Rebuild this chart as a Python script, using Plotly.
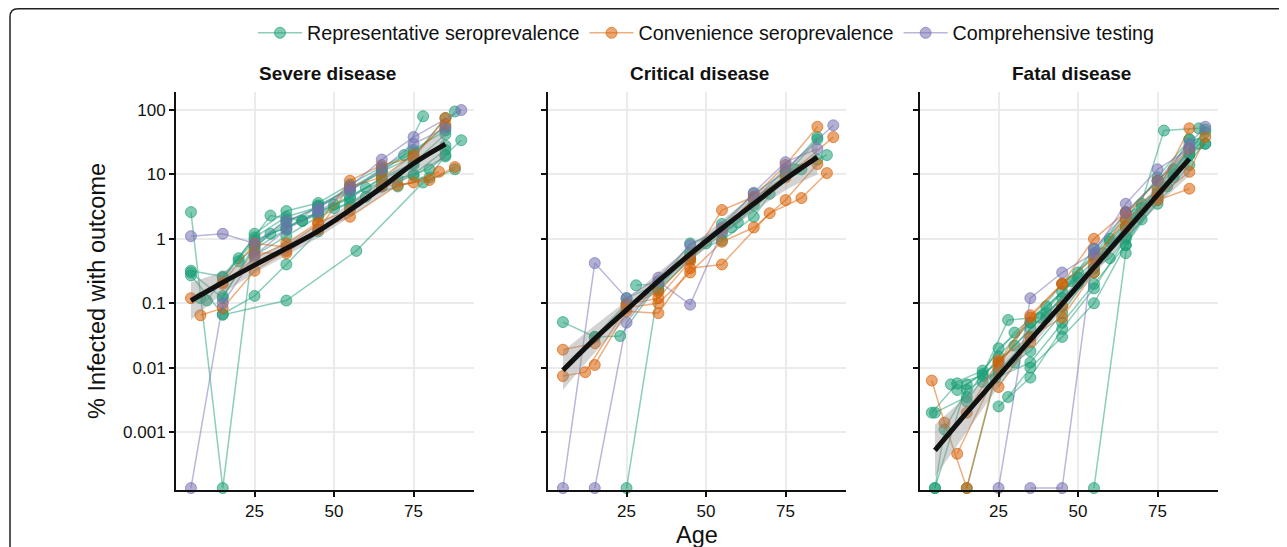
import plotly.graph_objects as go

W, H = 1287, 547          # browser window
OFF = 8                   # page body margin
FW, FH = W - OFF, H - OFF  # figure size that fits in the window
FONT = "Liberation Sans, Arial, sans-serif"
FLOOR = 10 ** -3.87  # zero values are drawn on the bottom edge

GREEN = "27,158,119"
ORANGE = "217,95,2"
PURPLE = "117,112,179"

# ---------------- Severe disease ----------------
SEV_REP_AGES = [
    [5, 15, 25, 35, 45, 55, 65, 75, 85],
    [5, 15, 25, 35, 45, 55, 65, 75, 85],
    [5, 15, 25, 35, 45, 55, 65, 75, 85],
    [10, 20, 30, 40, 50, 60, 70, 80, 90],
    [15, 35, 57, 78, 88],
    [8, 15, 25, 35, 45, 55, 65, 75, 85],
    [25, 35, 45, 55, 65, 72, 78],
    [5, 15, 25, 35, 45, 55, 65, 75, 85],
    [15, 25, 35, 45, 55, 65, 75, 85, 88],
    [25, 35, 45, 55, 65, 75, 85],
    [20, 30, 40, 50, 60, 70, 80, 85],
]
SEV_REP_VALS = [
    [2.6, 0, 1.2, 2.7, 3.6, 7.0, 13, 24, 48],
    [0.32, 0.26, 1.05, 2.2, 3.1, 5.6, 11, 19, 75],
    [0.27, 0.068, 0.13, 0.4, 1.3, 3.1, 6.5, 9.5, 19],
    [0.11, 0.5, 2.3, 1.9, 3.4, 6.2, 8.5, 12, 34],
    [0.066, 0.11, 0.65, 7.5, 12],
    [0.12, 0.25, 0.95, 1.5, 2.6, 4.2, 9, 15, 42],
    [0.75, 1.8, 3.2, 6.0, 11, 20, 80],
    [0.3, 0.12, 0.8, 2.0, 2.4, 4.5, 8.5, 14, 28],
    [0.13, 0.7, 1.4, 3.3, 6.0, 12, 22, 55, 95],
    [0.55, 1.1, 2.2, 3.6, 7.5, 10, 24],
    [0.45, 1.2, 1.9, 3.0, 4.5, 6.5, 9.0, 20],
]
SEV_CONV_AGES = [
    [5, 15, 25, 35, 45, 55, 65, 75, 85],
    [8, 15, 25, 35, 45, 55, 70, 80, 88],
    [15, 25, 35, 45, 55, 65, 75, 83],
    [25, 35, 45, 55, 65, 75, 85],
]
SEV_CONV_VALS = [
    [0.12, 0.21, 0.85, 0.75, 1.7, 8.0, 14, 18, 75],
    [0.065, 0.084, 0.32, 0.65, 1.4, 2.2, 6.8, 8.2, 13],
    [0.2, 0.5, 0.85, 1.8, 2.8, 6.5, 7.5, 11],
    [0.6, 0.6, 1.4, 6.5, 9, 20, 60],
]
SEV_COMP_AGES = [
    [5, 15, 25, 35, 45, 55, 65, 75, 90],
    [5, 15, 25, 35, 45, 55, 65, 75, 85],
]
SEV_COMP_VALS = [
    [1.1, 1.2, 0.85, 1.9, 3.0, 6.5, 17, 38, 100],
    [0, 0.1, 0.55, 1.4, 2.6, 5.5, 12, 30, 52],
]

# ---------------- Critical disease ----------------
CRI_REP_AGES = [
    [5, 15, 23, 35, 45, 55, 65, 75, 85],
    [25, 35, 45, 55, 65, 75, 85],
    [28, 35, 45, 58, 65, 78, 88],
    [15, 25, 35, 45, 55, 65, 75, 85],
    [25, 35, 45, 50, 60, 70, 80],
]
CRI_REP_VALS = [
    [0.051, 0.030, 0.031, 0.2, 0.55, 1.7, 5.0, 11, 38],
    [0, 0.17, 0.6, 0.95, 2.2, 10.5, 17],
    [0.19, 0.2, 0.85, 1.5, 3.3, 12, 20],
    [0.03, 0.1, 0.16, 0.48, 1.2, 4.2, 9.5, 35],
    [0.12, 0.2, 0.5, 0.85, 1.8, 5.0, 12],
]
CRI_CONV_AGES = [
    [5, 15, 25, 35, 45, 55, 65, 75, 85],
    [5, 12, 25, 35, 45, 55, 65, 75, 85],
    [15, 25, 35, 45, 55, 70, 80, 88],
    [25, 35, 45, 55, 65, 75, 90],
]
CRI_CONV_VALS = [
    [0.019, 0.024, 0.095, 0.12, 0.45, 2.8, 4.5, 14, 55],
    [0.0074, 0.0085, 0.085, 0.1, 0.3, 0.9, 1.5, 4.0, 14.5],
    [0.011, 0.075, 0.07, 0.35, 0.4, 2.5, 4.3, 10.5],
    [0.09, 0.15, 0.5, 1.4, 4.3, 9, 38],
]
CRI_COMP_AGES = [
    [5, 15, 25, 35, 45, 55, 65, 75, 85],
    [15, 25, 35, 45, 55, 65, 75, 90],
]
CRI_COMP_VALS = [
    [0, 0.42, 0.12, 0.25, 0.8, 1.5, 5.2, 15.5, 25],
    [0, 0.05, 0.22, 0.095, 1.3, 4.0, 12, 58],
]

# ---------------- Fatal disease ----------------
FAT_REP_AGES = [
    [5, 15, 25, 35, 45, 55, 65, 75, 85],
    [4, 12, 20, 30, 40, 50, 60, 70, 80, 90],
    [5, 8, 15, 25, 35, 45, 55, 65, 75, 85],
    [15, 24, 35, 45, 55, 65, 75, 85],
    [55, 65, 77, 88],
    [12, 20, 28, 38, 48, 58, 68, 78, 88],
    [10, 20, 30, 40, 50, 60, 70, 80, 90],
    [25, 35, 45, 55, 65, 75, 85],
    [15, 25, 35, 45, 55, 65, 75, 85],
    [25, 35, 45, 55, 65, 75, 85, 90],
    [20, 30, 40, 50, 60, 70, 80, 90],
    [5, 15, 25, 35, 45, 55, 65, 75, 85],
    [28, 35, 45, 55, 65, 75, 85],
]
FAT_REP_VALS = [
    [0, 0.0055, 0.012, 0.04, 0.12, 0.35, 1.1, 4.5, 25],
    [0.002, 0.0057, 0.0075, 0.022, 0.07, 0.2, 0.9, 3.5, 9, 30],
    [0, 0.0011, 0.0045, 0.009, 0.03, 0.09, 0.3, 1.5, 6, 35],
    [0, 0.0069, 0.012, 0.05, 0.2, 0.8, 4.0, 20],
    [0, 0.6, 48, 52],
    [0.0045, 0.008, 0.055, 0.06, 0.22, 0.6, 2.4, 6.5, 30],
    [0.0055, 0.009, 0.035, 0.09, 0.25, 0.5, 2.0, 10, 50],
    [0.0025, 0.007, 0.04, 0.17, 1.0, 3.5, 14],
    [0.003, 0.015, 0.05, 0.2, 0.55, 2.6, 8, 22],
    [0.0085, 0.018, 0.07, 0.35, 1.6, 5, 20, 30],
    [0.006, 0.012, 0.06, 0.3, 1.0, 3.0, 12, 45],
    [0.002, 0.0035, 0.02, 0.05, 0.15, 0.7, 2.0, 9, 35],
    [0.0035, 0.01, 0.03, 0.1, 0.8, 5, 25],
]
FAT_CONV_AGES = [
    [4, 8, 15, 25, 35, 45, 55, 65, 75, 85],
    [12, 25, 35, 45, 55, 65, 75, 85, 90],
    [15, 25, 35, 45, 55, 65, 75, 85],
    [25, 35, 45, 55, 65, 75, 85],
]
FAT_CONV_VALS = [
    [0.0063, 0.0014, 0, 0.012, 0.065, 0.2, 1.0, 2.6, 5.5, 52],
    [0.00046, 0.01, 0.06, 0.2, 0.5, 2.0, 4.5, 11, 38],
    [0.002, 0.013, 0.03, 0.06, 0.3, 1.5, 4.0, 6],
    [0.005, 0.025, 0.09, 0.4, 2.5, 8, 25],
]
FAT_COMP_AGES = [
    [25, 35, 45, 55, 65, 75, 85],
    [35, 45, 55, 65, 75, 85, 90],
]
FAT_COMP_VALS = [
    [0, 0.12, 0.3, 0.6, 3.5, 12, 25],
    [0, 0, 0.7, 2.5, 8, 30, 55],
]

# ---------------- Meta-regression fits ----------------
AGE_FIT = [5, 15, 25, 35, 45, 55, 65, 75, 85]
SEV_FIT = [0.11, 0.21, 0.39, 0.71, 1.32, 2.8, 6.3, 14.8, 29.5]
SEV_LO = [0.055, 0.14, 0.29, 0.55, 1.05, 2.2, 4.7, 10, 17]
SEV_HI = [0.21, 0.31, 0.52, 0.9, 1.7, 3.6, 8.5, 22, 50]
CRI_FIT = [0.0091, 0.028, 0.079, 0.22, 0.58, 1.45, 3.5, 8.5, 18.6]
CRI_LO = [0.0045, 0.017, 0.057, 0.16, 0.45, 1.1, 2.6, 5.7, 10]
CRI_HI = [0.018, 0.045, 0.11, 0.3, 0.75, 1.95, 4.8, 12.5, 33]
FAT_FIT = [0.00052, 0.002, 0.0074, 0.027, 0.098, 0.36, 1.32, 4.8, 17.4]
FAT_LO = [0.0002, 0.001, 0.005, 0.02, 0.077, 0.28, 0.98, 3.3, 9.5]
FAT_HI = [0.0013, 0.0037, 0.011, 0.036, 0.125, 0.47, 1.8, 7.0, 32]

PANEL_TITLES = ["Severe disease", "Critical disease", "Fatal disease"]
GROUP_NAMES = ["Representative seroprevalence", "Convenience seroprevalence", "Comprehensive testing"]
Y_TICK_VALS = [100, 10, 1, 0.1, 0.01, 0.001]
Y_TICK_TEXT = ["100", "10", "1", "0.1", "0.01", "0.001"]
X_TICK_VALS = [25, 50, 75]


def px(x):
    return (x - OFF) / FW


def py(y):
    return 1 - (y - OFF) / FH


panels = [
    ([(SEV_REP_AGES, SEV_REP_VALS), (SEV_CONV_AGES, SEV_CONV_VALS), (SEV_COMP_AGES, SEV_COMP_VALS)],
     SEV_FIT, SEV_LO, SEV_HI),
    ([(CRI_REP_AGES, CRI_REP_VALS), (CRI_CONV_AGES, CRI_CONV_VALS), (CRI_COMP_AGES, CRI_COMP_VALS)],
     CRI_FIT, CRI_LO, CRI_HI),
    ([(FAT_REP_AGES, FAT_REP_VALS), (FAT_CONV_AGES, FAT_CONV_VALS), (FAT_COMP_AGES, FAT_COMP_VALS)],
     FAT_FIT, FAT_LO, FAT_HI),
]
colors = [GREEN, ORANGE, PURPLE]

fig = go.Figure()
legend_done = set()
for pi, (groups, fit, lo, hi) in enumerate(panels):
    xa = "x" if pi == 0 else f"x{pi+1}"
    ya = "y" if pi == 0 else f"y{pi+1}"
    for gi, (ages_list, vals_list) in enumerate(groups):
        c = colors[gi]
        for ages, vals in zip(ages_list, vals_list):
            yv = [v if v > 0 else FLOOR for v in vals]
            show = gi not in legend_done
            legend_done.add(gi)
            fig.add_trace(go.Scatter(
                x=ages, y=yv, xaxis=xa, yaxis=ya, mode="lines+markers",
                name=GROUP_NAMES[gi], legendgroup=GROUP_NAMES[gi], showlegend=show,
                legendrank=gi + 1,
                line=dict(color=f"rgba({c},0.5)", width=1.5),
                marker=dict(size=11, color=f"rgba({c},0.55)",
                            line=dict(color=f"rgba({c},0.65)", width=1)),
                cliponaxis=False, hoverinfo="skip",
            ))
    fig.add_trace(go.Scatter(x=AGE_FIT, y=hi, xaxis=xa, yaxis=ya, mode="lines",
                             line=dict(width=0, shape="spline"), showlegend=False, hoverinfo="skip"))
    fig.add_trace(go.Scatter(x=AGE_FIT, y=lo, xaxis=xa, yaxis=ya, mode="lines",
                             line=dict(width=0, shape="spline"), fill="tonexty",
                             fillcolor="rgba(140,140,140,0.38)", showlegend=False, hoverinfo="skip"))
    fig.add_trace(go.Scatter(x=AGE_FIT, y=fit, xaxis=xa, yaxis=ya, mode="lines",
                             line=dict(color="#111111", width=5, shape="spline"),
                             showlegend=False, hoverinfo="skip"))

x_starts = [176, 548, 920]
pw = 298
y_dom = [py(490), py(92)]
layout = dict(
    width=FW, height=FH, margin=dict(l=0, r=0, t=0, b=0),
    paper_bgcolor="white", plot_bgcolor="white",
    font=dict(family=FONT, size=17, color="#111111"),
    showlegend=True,
    legend=dict(orientation="h", x=px(706), xanchor="center", y=py(33), yanchor="middle",
                font=dict(size=19.7, family=FONT, color="#111111"), itemwidth=44,
                bgcolor="rgba(0,0,0,0)"),
)
annotations = []
for pi in range(3):
    xk = "xaxis" if pi == 0 else f"xaxis{pi+1}"
    yk = "yaxis" if pi == 0 else f"yaxis{pi+1}"
    ya = "y" if pi == 0 else f"y{pi+1}"
    xa = "x" if pi == 0 else f"x{pi+1}"
    x0 = x_starts[pi]
    layout[xk] = dict(domain=[px(x0), px(x0 + pw)], anchor=ya, range=[0.3, 94.0],
                      tickvals=X_TICK_VALS, ticks="outside", ticklen=5, tickwidth=1.5,
                      tickcolor="#111111", showline=True, linecolor="#111111", linewidth=2,
                      showgrid=True, gridcolor="#EBEBEB", gridwidth=2, zeroline=False,
                      tickfont=dict(size=17, color="#111111"))
    layout[yk] = dict(domain=y_dom, anchor=xa, type="log", range=[-3.9, 2.28],
                      tickvals=Y_TICK_VALS, ticktext=Y_TICK_TEXT if pi == 0 else None,
                      showticklabels=(pi == 0),
                      ticks="outside", ticklen=5, tickwidth=1.5, tickcolor="#111111",
                      showline=True, linecolor="#111111", linewidth=2,
                      showgrid=True, gridcolor="#EBEBEB", gridwidth=2, zeroline=False,
                      tickfont=dict(size=17, color="#111111"))
    annotations.append(dict(text=f"<b>{PANEL_TITLES[pi]}</b>", xref="paper", yref="paper",
                            x=px(x0 + pw / 2 + 2), y=py(73), xanchor="center", yanchor="middle",
                            showarrow=False, font=dict(size=19, family=FONT, color="#111111")))
annotations.append(dict(text="Age", xref="paper", yref="paper", x=px(697), y=py(535),
                        xanchor="center", yanchor="middle",
                        showarrow=False, font=dict(size=23.5, family=FONT, color="#111111")))
annotations.append(dict(text="% Infected with outcome", xref="paper", yref="paper",
                        x=px(97), y=py(291), xanchor="center", yanchor="middle",
                        textangle=-90, showarrow=False,
                        font=dict(size=23.5, family=FONT, color="#111111")))
layout["annotations"] = annotations

bx, by = px(10), py(8.8)
r = 8
layout["shapes"] = [dict(
    type="path", xref="paper", yref="paper",
    path=(f"M 1.02,{by} L {px(10 + r)},{by} Q {bx},{by} {bx},{py(8.8 + r)} L {bx},-0.05"),
    line=dict(color="#222222", width=1.5),
)]
fig.update_layout(**layout)
fig.write_html("out.html")
